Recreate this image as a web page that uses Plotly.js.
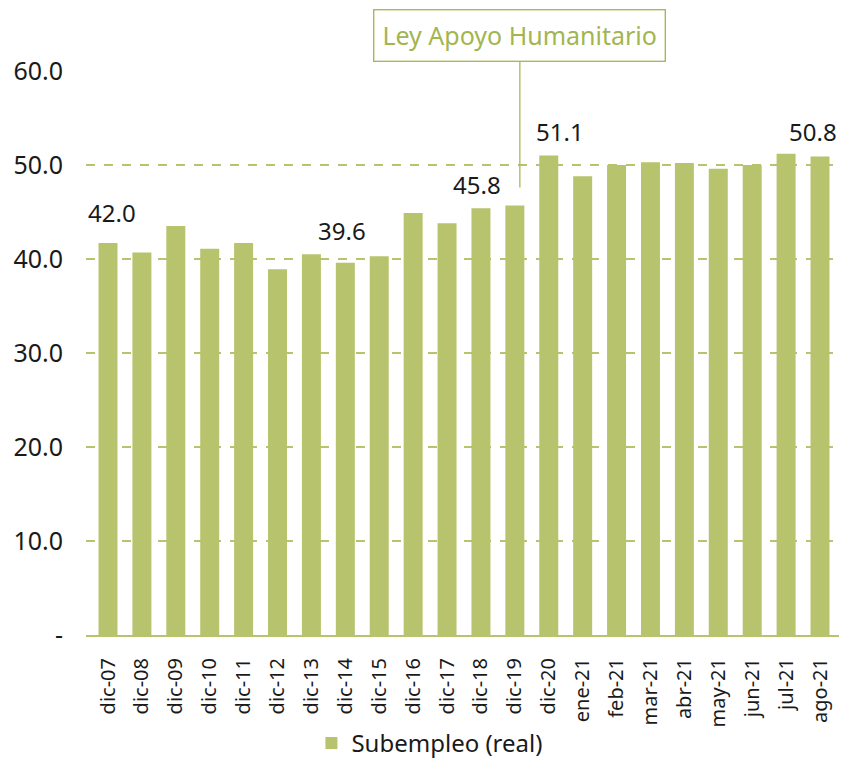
<!DOCTYPE html>
<html>
<head>
<meta charset="utf-8">
<script src="https://cdn.plot.ly/plotly-3.0.1.min.js"></script>
<style>html,body{margin:0;padding:0;background:#fff;}#chart{width:843px;height:760px;}</style>
</head>
<body>
<div id="chart"></div>
<script>
const categories = ["dic-07","dic-08","dic-09","dic-10","dic-11","dic-12","dic-13","dic-14","dic-15","dic-16","dic-17","dic-18","dic-19","dic-20","ene-21","feb-21","mar-21","abr-21","may-21","jun-21","jul-21","ago-21"];
const subempleo = [41.7,40.7,43.5,41.1,41.7,38.9,40.5,39.6,40.3,44.9,43.8,45.4,45.7,51.0,48.8,50.0,50.3,50.2,49.6,50.0,51.2,50.9];
const tickVals = [0,10,20,30,40,50,60];
const tickText = ["-","10.0","20.0","30.0","40.0","50.0","60.0"];
const labelCats = ["dic-07","dic-14","dic-18","dic-20","ago-21"];
const labelTexts = ["42.0","39.6","45.8","51.1","50.8"];
const labelY = [45.0,43.0,47.9,53.6,53.6];
const labelShift = [4,-3,-4,11,-7];
const eventCat = "dic-19";
const eventText = "Ley Apoyo Humanitario";

const green = "#b8c36e";
const font = "Noto Sans, sans-serif";

const annotations = labelCats.map((c,i)=>({
  x:c, y:labelY[i], xref:"x", yref:"y", text:labelTexts[i], showarrow:false,
  xshift:labelShift[i], font:{family:font,size:24,color:"#1a1a1a"}
}));
annotations.push({
  x:eventCat, y:47.6, xref:"x", yref:"y", text:eventText, showarrow:true,
  arrowhead:0, arrowwidth:1.3, arrowcolor:"#a9b85a", ax:0, ay:-152, standoff:0,
  xshift:5, bordercolor:"#a9b85a", borderwidth:1.4, borderpad:8, bgcolor:"#fff",
  font:{family:font,size:25,color:"#a3b54f"}
});

Plotly.newPlot("chart",[{
  type:"bar", x:categories, y:subempleo, name:"Subempleo (real)",
  marker:{color:green}
}],{
  width:843, height:760,
  margin:{l:86, r:4, t:71, b:125, autoexpand:false},
  paper_bgcolor:"#fff", plot_bgcolor:"#fff",
  bargap:0.44,
  showlegend:true,
  legend:{orientation:"h", xref:"container", yref:"container", x:0.51, xanchor:"center",
    y:0.022, yanchor:"middle",
    font:{family:font,size:24,color:"#1a1a1a"}, itemwidth:30},
  xaxis:{type:"category", tickangle:-90, tickfont:{family:font,size:20,color:"#1a1a1a"},
    showgrid:false, showline:true, linecolor:green, linewidth:2, ticks:"", ticklen:0,
    ticklabelstandoff:13, automargin:false},
  yaxis:{range:[0,60], tickvals:tickVals, ticktext:tickText,
    tickfont:{family:font,size:25,color:"#1a1a1a"},
    showgrid:true, gridcolor:green, griddash:"dash", gridwidth:1.5,
    zeroline:false, showline:false, ticks:"", ticklabelstandoff:22, automargin:false},
  annotations:annotations
},{displayModeBar:false});
</script>
</body>
</html>
